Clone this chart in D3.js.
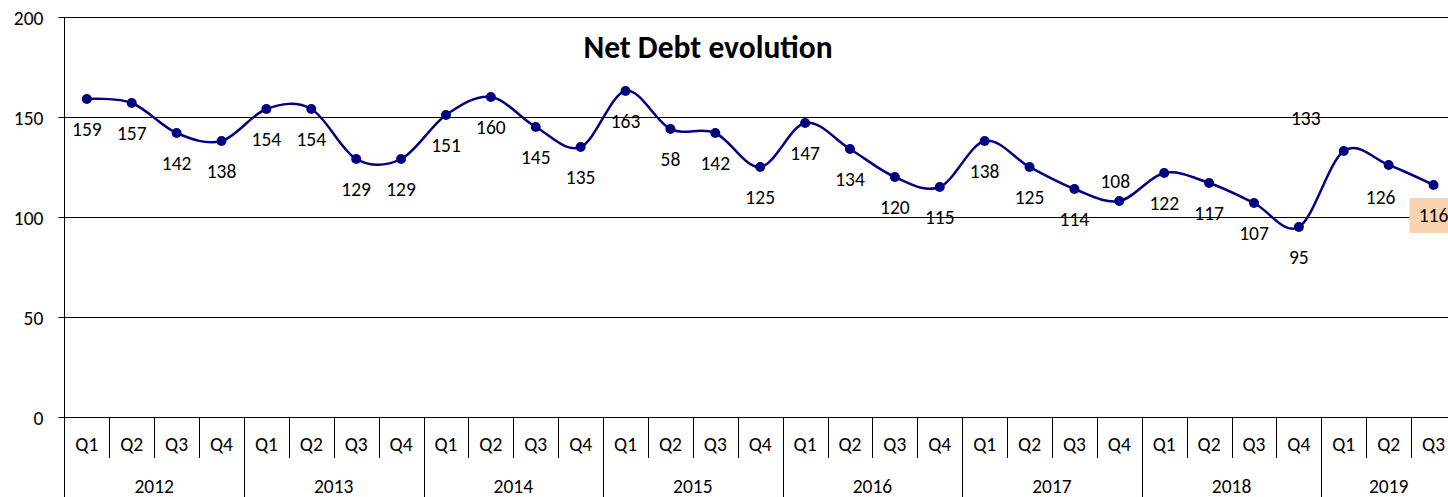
<!DOCTYPE html>
<html><head><meta charset="utf-8">
<script src="https://cdn.jsdelivr.net/npm/d3@7"></script>
<style>
body{margin:0;background:#fff;overflow:hidden;}
svg{display:block;font-family:Carlito,Calibri,Lato,sans-serif;}
</style>
</head><body>
<svg id="c" width="1448" height="497"></svg>
<script>
const title = "Net Debt evolution";
const years = ["2012","2013","2014","2015","2016","2017","2018","2019"];
const quarters = ["Q1","Q2","Q3","Q4"];
const categories = [];
years.forEach(y => quarters.forEach(q => { if (categories.length < 31) categories.push(y + " " + q); }));
const netDebt = [159,157,142,138,154,154,129,129,151,160,145,135,163,144,142,125,147,134,120,115,138,125,114,108,122,117,107,95,133,126,116];
const dataLabels = ["159","157","142","138","154","154","129","129","151","160","145","135","163","58","142","125","147","134","120","115","138","125","114","108","122","117","107","95","133","126","116"];
const yTicks = [0,50,100,150,200];

const W = 1448, H = 497;
const left = 64.4, bw = 44.89;
const svg = d3.select("#c");
const x = d3.scaleBand().domain(d3.range(categories.length)).range([left, left + categories.length * bw]).padding(0);
const y = d3.scaleLinear().domain([0,200]).range([417,17]);
const cx = i => x(i) + x.bandwidth()/2;
const FS = 19.5;

// gridlines
svg.append("g").selectAll("line").data(yTicks).join("line")
  .attr("x1", left - 6).attr("x2", W)
  .attr("y1", d => Math.round(y(d)) + 0.5).attr("y2", d => Math.round(y(d)) + 0.5)
  .attr("stroke", "#000").attr("stroke-width", 1);

// y axis labels
const ya = svg.append("g").attr("transform", `translate(${left},0)`)
  .call(d3.axisLeft(y).tickValues(yTicks).tickSize(0).tickPadding(21).tickFormat(d3.format("d")));
ya.select(".domain").remove();
ya.selectAll("text").attr("font-size", FS).attr("fill", "#000").attr("font-family", "Carlito,Calibri,Lato,sans-serif").attr("dy", "0.36em");

// axis line
svg.append("line").attr("x1", Math.round(left)+0.5).attr("x2", Math.round(left)+0.5)
  .attr("y1", y(200)).attr("y2", H).attr("stroke", "#000").attr("stroke-width", 1);

// category separators
svg.append("g").selectAll("line").data(d3.range(1, categories.length)).join("line")
  .attr("x1", k => Math.round(x(k)) + 0.5).attr("x2", k => Math.round(x(k)) + 0.5)
  .attr("y1", y(0)).attr("y2", k => k % 4 === 0 ? H : 458)
  .attr("stroke", "#000").attr("stroke-width", 1);

// quarter labels
svg.append("g").selectAll("text").data(categories).join("text")
  .attr("x", (d,i) => cx(i)).attr("y", 444)
  .attr("text-anchor", "middle").attr("dominant-baseline", "central")
  .attr("font-size", FS).attr("fill", "#000")
  .text(d => d.split(" ")[1]);

// year labels
svg.append("g").selectAll("text").data(years).join("text")
  .attr("x", (d,j) => {
    const s = j*4, e = Math.min(j*4+4, categories.length);
    return (x(s) + x(e-1) + x.bandwidth())/2;
  })
  .attr("y", 486)
  .attr("text-anchor", "middle").attr("dominant-baseline", "central")
  .attr("font-size", FS).attr("fill", "#000")
  .text(d => d);

// line
const line = d3.line().x((d,i) => cx(i)).y(d => y(d)).curve(d3.curveCatmullRom.alpha(0));
svg.append("path").datum(netDebt).attr("d", line)
  .attr("fill", "none").attr("stroke", "#000080").attr("stroke-width", 2.5);

svg.append("g").selectAll("circle").data(netDebt).join("circle")
  .attr("cx", (d,i) => cx(i)).attr("cy", d => y(d)).attr("r", 5).attr("fill", "#000080");

// data labels
const last = netDebt.length - 1;
const lbl = svg.append("g");
netDebt.forEach((v, i) => {
  let lx = cx(i), ly = y(v) + 30;
  if (i === 23) { lx = cx(i) - 4; ly = y(v) - 20; }
  if (i === 28) { lx = cx(i) - 38; ly = y(v) - 33; }
  if (i === 29) { lx = cx(i) - 8; ly = y(v) + 32; }
  if (i === last) {
    lbl.append("rect").attr("x", lx - 24).attr("y", ly - 17).attr("width", 48).attr("height", 35).attr("fill", "#F9D3B1");
  }
  lbl.append("text").attr("x", lx).attr("y", ly)
    .attr("text-anchor", "middle").attr("dominant-baseline", "central")
    .attr("font-size", FS).attr("fill", "#000").text(dataLabels[i]);
});

// title
svg.append("text").attr("x", 708).attr("y", 58).attr("text-anchor", "middle")
  .attr("font-size", 31.5).attr("font-weight", "bold").attr("fill", "#000").text(title);
</script>
</body></html>
